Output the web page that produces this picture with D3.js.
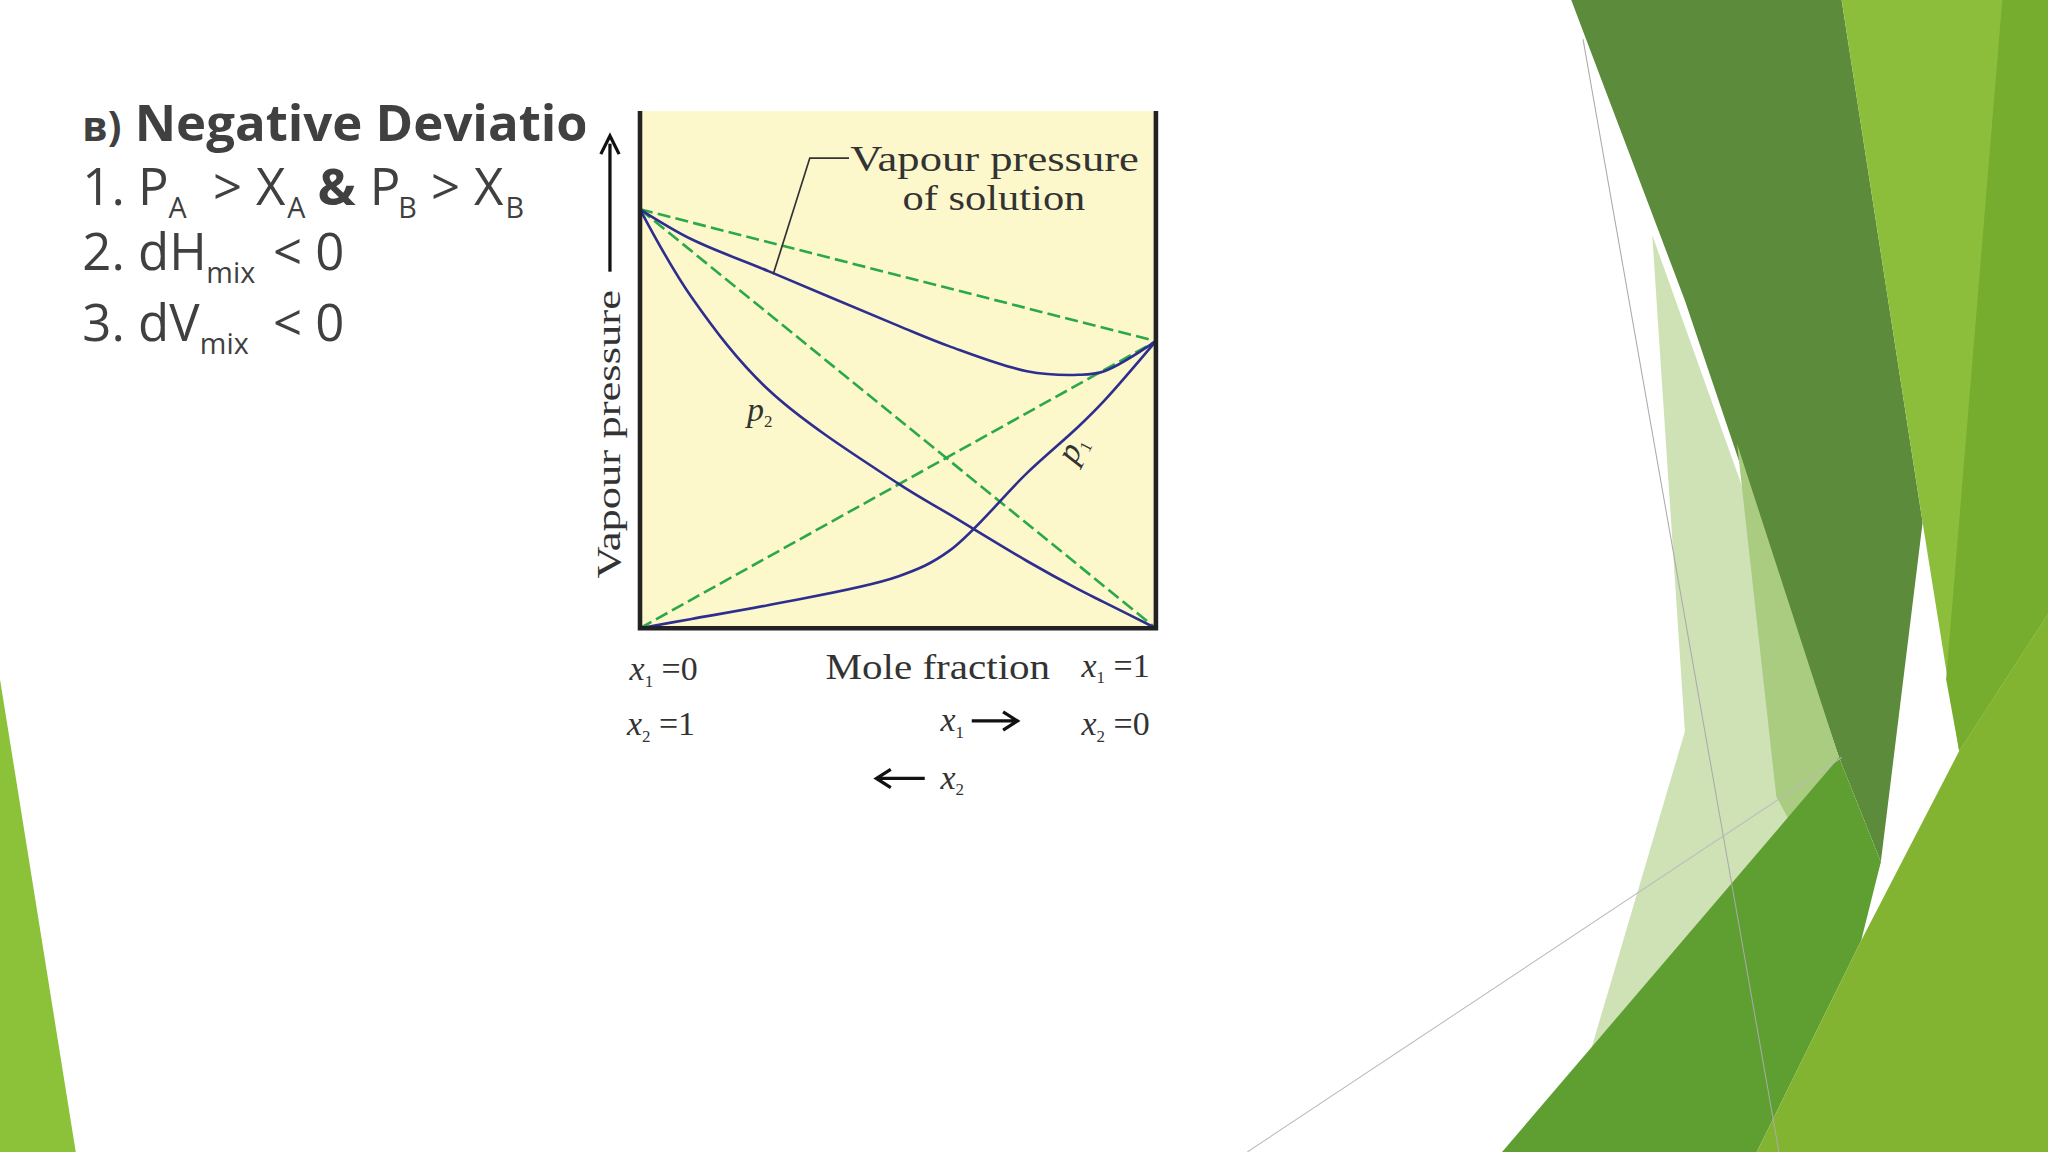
<!DOCTYPE html>
<html><head><meta charset="utf-8">
<script src="https://cdn.jsdelivr.net/npm/d3@7"></script>
<style>body{margin:0;background:#fff}svg{display:block}</style></head>
<body><svg id="c" width="2048" height="1152"></svg>
<script>
// Data (x1 mole fraction, vapour pressure as fraction of plot height)
const xs = [0, 0.1, 0.25, 0.5, 0.6, 0.75, 0.85, 0.9, 1];
const p2 = [0.81, 0.64, 0.46, 0.28, 0.22, 0.13, 0.075, 0.05, 0];
const p1 = [0, 0.018, 0.045, 0.10, 0.15, 0.30, 0.39, 0.44, 0.555];
const total = [0.81, 0.752, 0.69, 0.585, 0.545, 0.497, 0.49, 0.497, 0.555];
const idealP2 = [0.81, 0];
const idealP1 = [0, 0.555];
const idealTotal = [0.81, 0.555];
const bulletLines = ["Negative Deviation"];

const svg = d3.select("#c");
const g = svg.append("g").attr("transform", `scale(${2048/1568})`);
const dark = "#404040";

const polys = [
 {c:"#5b8b3b", p:[[1203,0],[1410,0],[1472,400],[1440,660],[1408,580],[1290,230]]},
 {c:"#8cbe3c", p:[[1410,0],[1568,0],[1568,470],[1500,575],[1472,400]]},
 {c:"#76ad2e", p:[[1533,0],[1568,0],[1568,470],[1500,575],[1490,520]]},
 {c:"#cfe2b6", p:[[1265,180],[1408,580],[1440,660],[1300,882],[1195,882],[1290,560]]},
 {c:"#a9cc80", p:[[1330,340],[1408,580],[1440,660],[1420,720],[1360,610]]},
 {c:"#5f9f32", p:[[1150,882],[1408,580],[1440,660],[1425,720],[1345,882]]},
 {c:"#82b431", p:[[1425,720],[1500,575],[1568,470],[1568,882],[1345,882]]},
 {c:"#8cc23a", p:[[0,520],[58,882],[0,882]]}
];
g.selectAll("polygon.bg").data(polys).join("polygon").attr("class","bg")
 .attr("points",d=>d.p.map(q=>q.join(",")).join(" ")).attr("fill",d=>d.c);
g.append("line").attr("x1",1212).attr("y1",30).attr("x2",1362).attr("y2",882).attr("stroke","#aaa").attr("stroke-width",0.8);
g.append("line").attr("x1",955).attr("y1",882).attr("x2",1410).attr("y2",580).attr("stroke","#bbb").attr("stroke-width",0.8);

const tf = "'Open Sans','Noto Sans',sans-serif";
g.append("text").attr("x",63).attr("y",108).attr("font-family",tf).attr("font-size",39).attr("font-weight",700).attr("fill",dark)
 .html(`<tspan font-size="31">в)</tspan> ${bulletLines[0]}`);
function line(y, items){
  items.forEach(p=>{
    const s=p[2]==="sub";
    const t=g.append("text").attr("x",p[1]).attr("y",y+(s?10:0)).attr("font-family",tf)
      .attr("font-size",s?22:39).attr("fill",dark).text(p[0]);
    if(p[3]) t.attr("font-weight",700);
  });
}
line(157,[["1. P",63],["A",129,"sub"],[">",163],["X",196],["A",220,"sub"],["&",243,"",1],["P",283],["B",305,"sub"],[">",330],["X",363],["B",387,"sub"]]);
line(207,[["2. dH",63],["mix",158,"sub"],["< 0",209]]);
line(261,[["3. dV",63],["mix",153,"sub"],["< 0",209]]);

g.append("rect").attr("x",448).attr("y",72).attr("width",455).attr("height",545).attr("fill","#fff");
const L=490,R=885,T=85,B=481;
g.append("rect").attr("x",L).attr("y",T).attr("width",R-L).attr("height",B-T).attr("fill","#fdf8cc");
const x=d3.scaleLinear().domain([0,1]).range([L,R]);
const y=d3.scaleLinear().domain([0,1]).range([B,T]);
const lg=d3.line().x(d=>x(d[0])).y(d=>y(d[1]));
const cl=d3.line().x(d=>x(d[0])).y(d=>y(d[1])).curve(d3.curveCatmullRom.alpha(0.5));
const green="#2aa84a", blue="#2e2e8e";
[idealP2,idealP1,idealTotal].forEach(a=>{
  g.append("path").attr("d",lg([[0,a[0]],[1,a[1]]])).attr("fill","none").attr("stroke",green).attr("stroke-width",2).attr("stroke-dasharray","10,4");
});
[p2,p1,total].forEach(a=>{
  g.append("path").attr("d",cl(xs.map((v,i)=>[v,a[i]]))).attr("fill","none").attr("stroke",blue).attr("stroke-width",2);
});
g.append("path").attr("d",`M${L},${T}V${B}H${R}V${T}`).attr("fill","none").attr("stroke","#222").attr("stroke-width",3.5);

const sf="'Liberation Serif','DejaVu Serif',serif";
function st(xp,yp,txt,size,len,extra){const t=g.append("text").attr("x",xp).attr("y",yp).attr("font-family",sf).attr("font-size",size||25).attr("fill","#333");t.html(txt);
  if(len) t.attr("textLength",len).attr("lengthAdjust","spacingAndGlyphs");
  if(extra)extra(t);return t;}
st(651,131,"Vapour pressure",28,221);
st(691,161,"of solution",28,140);
g.append("path").attr("d","M650,121H620L592,210").attr("fill","none").attr("stroke","#333").attr("stroke-width",1.3);
st(0,0,"Vapour pressure",26,221,t=>t.attr("transform","translate(475,443) rotate(-90)"));
g.append("line").attr("x1",467).attr("y1",208).attr("x2",467).attr("y2",110).attr("stroke","#111").attr("stroke-width",2.5);
g.append("path").attr("d","M460,118L467,104L474,118").attr("fill","none").attr("stroke","#111").attr("stroke-width",2.5);
st(572,322,"<tspan font-style='italic'>p</tspan><tspan font-size='13' dy='5'>2</tspan>",26);
st(0,0,"<tspan font-style='italic'>p</tspan><tspan font-size='13' dy='5'>1</tspan>",26,null,t=>t.attr("transform","translate(823,356) rotate(-62)"));
st(632,520,"Mole fraction",27,172);
const sub=(a,b,c)=>`<tspan font-style='italic'>${a}</tspan><tspan font-size='13' dy='5'>${b}</tspan><tspan dy='-5'>${c}</tspan>`;
st(482,521,sub("x","1"," =0"),26);
st(480,563,sub("x","2"," =1"),26);
st(828,518,sub("x","1"," =1"),26);
st(828,563,sub("x","2"," =0"),26);
st(720,560,sub("x","1",""),26);
st(720,604,sub("x","2",""),26);
g.append("path").attr("d","M744,552H778M768,545L779,552L768,559").attr("fill","none").attr("stroke","#111").attr("stroke-width",2.5);
g.append("path").attr("d","M708,596H672M682,589L671,596L682,603").attr("fill","none").attr("stroke","#111").attr("stroke-width",2.5);
</script></body></html>
